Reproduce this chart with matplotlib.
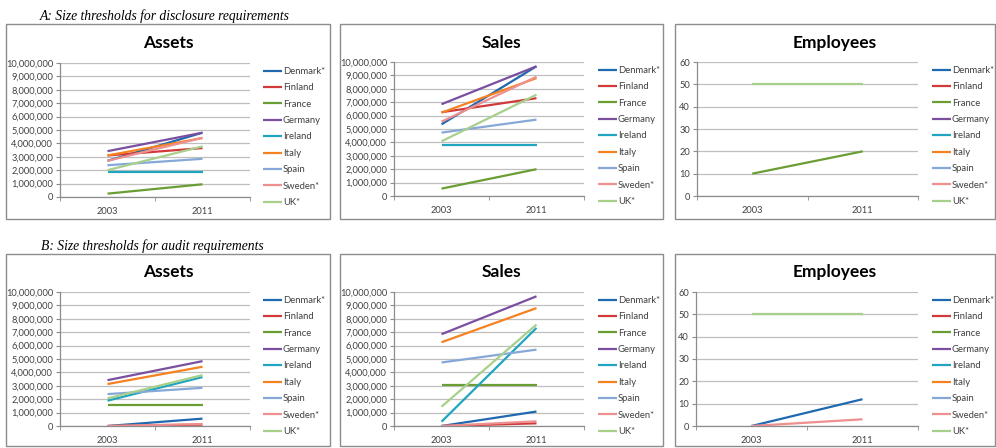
import matplotlib
matplotlib.use("Agg")
import matplotlib.pyplot as plt
from matplotlib.patches import Rectangle
from matplotlib.ticker import FuncFormatter, FixedLocator

W, H = 996, 448
nan = float("nan")
years = ["2003", "2011"]
countries = ["Denmark*", "Finland", "France", "Germany", "Ireland", "Italy", "Spain", "Sweden*", "UK*"]
colors = ["#2068B0", "#D03A3A", "#6A9E35", "#7B4FA0", "#1FA5C0", "#F58220", "#86A8D8", "#EE9090", "#A8D08D"]

# Panel A: disclosure requirements
disc_assets = {
    "Denmark*": [2700000, 4800000], "Finland": [3100000, 3650000], "France": [250000, 950000],
    "Germany": [3420000, 4800000], "Ireland": [1880000, 1880000], "Italy": [3100000, 4400000],
    "Spain": [2370000, 2850000], "Sweden*": [2700000, 4420000], "UK*": [2000000, 3780000],
}
disc_sales = {
    "Denmark*": [5350000, 9680000], "Finland": [6250000, 7300000], "France": [550000, 2000000],
    "Germany": [6850000, 9680000], "Ireland": [3810000, 3810000], "Italy": [6220000, 8800000],
    "Spain": [4730000, 5700000], "Sweden*": [5550000, 8900000], "UK*": [4080000, 7560000],
}
disc_emp = {
    "Denmark*": [nan, nan], "Finland": [nan, nan], "France": [10, 20], "Germany": [nan, nan],
    "Ireland": [nan, nan], "Italy": [nan, nan], "Spain": [nan, nan], "Sweden*": [nan, nan], "UK*": [50, 50],
}
# Panel B: audit requirements
aud_assets = {
    "Denmark*": [0, 550000], "Finland": [0, 100000], "France": [1540000, 1540000],
    "Germany": [3420000, 4840000], "Ireland": [1890000, 3650000], "Italy": [3130000, 4420000],
    "Spain": [2380000, 2850000], "Sweden*": [0, 150000], "UK*": [2060000, 3800000],
}
aud_sales = {
    "Denmark*": [0, 1080000], "Finland": [0, 200000], "France": [3080000, 3080000],
    "Germany": [6850000, 9680000], "Ireland": [320000, 7320000], "Italy": [6250000, 8800000],
    "Spain": [4740000, 5700000], "Sweden*": [0, 350000], "UK*": [1440000, 7570000],
}
aud_emp = {
    "Denmark*": [0, 12], "Finland": [nan, nan], "France": [nan, nan], "Germany": [nan, nan],
    "Ireland": [nan, nan], "Italy": [nan, nan], "Spain": [nan, nan], "Sweden*": [0, 3], "UK*": [50, 50],
}

fig = plt.figure(figsize=(W / 100, H / 100), dpi=100)
BODY = "Lato"
GRAY_TXT = "#404040"

def fx(px):
    return px / W

def fy(py):
    return 1 - py / H

def box(l, t, r, b):
    fig.patches.append(Rectangle((fx(l), fy(b)), fx(r - l), (b - t) / H, transform=fig.transFigure,
                                 fill=False, edgecolor="#8C8C8C", linewidth=1.0))

def panel(data, title, ax_l, ax_r, ax_t, ax_b, box_l, box_r, title_y, leg_x, leg_top, ymax, ystep, fmt):
    ax = fig.add_axes([fx(ax_l), fy(ax_b), fx(ax_r - ax_l), (ax_b - ax_t) / H])
    for c, col in zip(countries, colors):
        ax.plot([0, 1], data[c], color=col, lw=1.6, label=c, solid_capstyle="butt")
    ax.set_xlim(-0.5, 1.5)
    ax.set_ylim(0, ymax)
    yt = list(range(0, ymax + 1, ystep))
    ax.set_yticks(yt)
    ax.yaxis.set_major_formatter(FuncFormatter(fmt))
    ax.set_xticks([0, 1])
    ax.set_xticklabels(years)
    ax.xaxis.set_minor_locator(FixedLocator([-0.5, 0.5, 1.5]))
    ax.tick_params(axis="x", which="major", length=0, pad=7, labelsize=6.7, labelcolor=GRAY_TXT)
    ax.tick_params(axis="x", which="minor", length=3, color="#8C8C8C", direction="out")
    ax.tick_params(axis="y", length=3, color="#8C8C8C", pad=2, labelsize=6.7, labelcolor=GRAY_TXT)
    for lab in ax.get_xticklabels() + ax.get_yticklabels():
        lab.set_family(BODY)
    ax.grid(axis="y", color="#BFBFBF", lw=0.9)
    ax.set_axisbelow(True)
    for s in ["top", "right"]:
        ax.spines[s].set_visible(False)
    for s in ["left", "bottom"]:
        ax.spines[s].set_color("#8C8C8C")
        ax.spines[s].set_linewidth(0.9)
    ax.patch.set_alpha(0)
    fig.text(fx((box_l + box_r) / 2), fy(title_y), title, ha="center", va="center",
             fontsize=12.5, fontweight="bold", family=BODY, color="black")
    leg = ax.legend(loc="upper left", bbox_to_anchor=(fx(leg_x), fy(leg_top)),
                    bbox_transform=fig.transFigure, frameon=False,
                    handlelength=2.0, handletextpad=0.1, labelspacing=0.78,
                    borderpad=0, borderaxespad=0, prop={"family": BODY, "size": 6.8})
    for t in leg.get_texts():
        t.set_color(GRAY_TXT)
    return ax

big = lambda v, p: f"{int(v):,}"
small = lambda v, p: f"{int(v)}"

# Section titles
fig.text(fx(40), fy(16), "A: Size thresholds for disclosure requirements", ha="left", va="center",
         fontsize=9.8, style="italic", family="Liberation Serif")
fig.text(fx(41), fy(246), "B: Size thresholds for audit requirements", ha="left", va="center",
         fontsize=9.8, style="italic", family="Liberation Serif")

# Boxes
box(6, 24, 330, 219)
box(340, 24, 663, 219)
box(675, 24, 995, 219)
box(6, 254, 330, 446)
box(340, 254, 663, 446)
box(675, 254, 995, 446)

# Row A
panel(disc_assets, "Assets", 60, 250, 63, 197, 6, 330, 43, 263, 67, 10000000, 1000000, big)
panel(disc_sales, "Sales", 394, 584, 62, 196, 340, 663, 43, 598, 66, 10000000, 1000000, big)
panel(disc_emp, "Employees", 697, 918, 62, 196, 675, 995, 43, 932, 66, 60, 10, small)
# Row B
panel(aud_assets, "Assets", 60, 250, 292, 426, 6, 330, 272, 263, 296, 10000000, 1000000, big)
panel(aud_sales, "Sales", 394, 584, 292, 426, 340, 663, 272, 598, 296, 10000000, 1000000, big)
panel(aud_emp, "Employees", 696, 918, 292, 426, 675, 995, 272, 932, 296, 60, 10, small)

fig.savefig("out.png", dpi=100)
